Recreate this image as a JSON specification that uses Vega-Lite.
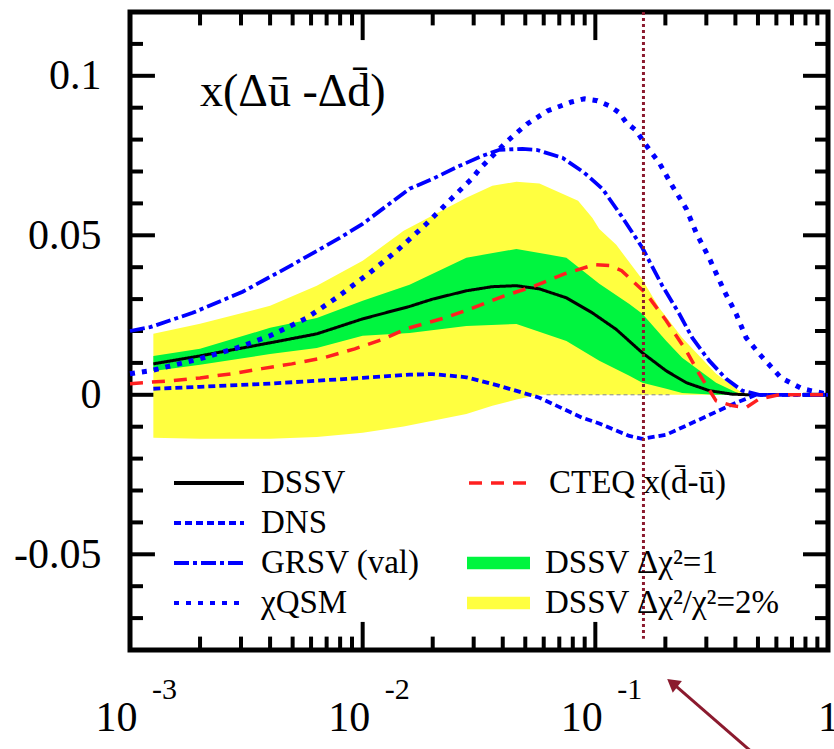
{
  "$schema": "https://vega.github.io/schema/vega-lite/v6.json",
  "width": 698,
  "height": 638,
  "autosize": {"type": "none"},
  "padding": {"left": 130, "top": 12, "right": 6, "bottom": 99},
  "background": "white",
  "config": {
    "view": {"stroke": "black", "strokeWidth": 5},
    "axis": {"domain": false, "grid": false, "ticks": false, "labelFont": "Liberation Serif", "labelColor": "black", "labelFlush": false, "labelOverlap": false},
    "legend": {"labelFont": "Liberation Serif", "labelFontSize": 33, "labelColor": "black", "labelLimit": 600, "padding": 0, "rowPadding": 0, "clipHeight": 40, "labelOffset": 15}
  },
  "title": {"text": "x(Δ\u016b -Δd\u0304)", "anchor": "start", "frame": "group", "orient": "top", "offset": 0, "dx": 70, "dy": 142, "font": "Liberation Serif", "fontSize": 46, "fontWeight": "normal", "color": "black", "baseline": "alphabetic"},
  "datasets": {
    "xticks": [
      {"v": 0.001, "b0": -0.08, "b1": -0.0712, "t0": 0.12, "t1": 0.1112},
      {"v": 0.002, "b0": -0.08, "b1": -0.0758, "t0": 0.12, "t1": 0.1158},
      {"v": 0.003, "b0": -0.08, "b1": -0.0758, "t0": 0.12, "t1": 0.1158},
      {"v": 0.004, "b0": -0.08, "b1": -0.0758, "t0": 0.12, "t1": 0.1158},
      {"v": 0.005, "b0": -0.08, "b1": -0.0758, "t0": 0.12, "t1": 0.1158},
      {"v": 0.006, "b0": -0.08, "b1": -0.0758, "t0": 0.12, "t1": 0.1158},
      {"v": 0.007, "b0": -0.08, "b1": -0.0758, "t0": 0.12, "t1": 0.1158},
      {"v": 0.008, "b0": -0.08, "b1": -0.0758, "t0": 0.12, "t1": 0.1158},
      {"v": 0.009, "b0": -0.08, "b1": -0.0758, "t0": 0.12, "t1": 0.1158},
      {"v": 0.01, "b0": -0.08, "b1": -0.0712, "t0": 0.12, "t1": 0.1112},
      {"v": 0.02, "b0": -0.08, "b1": -0.0758, "t0": 0.12, "t1": 0.1158},
      {"v": 0.03, "b0": -0.08, "b1": -0.0758, "t0": 0.12, "t1": 0.1158},
      {"v": 0.04, "b0": -0.08, "b1": -0.0758, "t0": 0.12, "t1": 0.1158},
      {"v": 0.05, "b0": -0.08, "b1": -0.0758, "t0": 0.12, "t1": 0.1158},
      {"v": 0.06, "b0": -0.08, "b1": -0.0758, "t0": 0.12, "t1": 0.1158},
      {"v": 0.07, "b0": -0.08, "b1": -0.0758, "t0": 0.12, "t1": 0.1158},
      {"v": 0.08, "b0": -0.08, "b1": -0.0758, "t0": 0.12, "t1": 0.1158},
      {"v": 0.09, "b0": -0.08, "b1": -0.0758, "t0": 0.12, "t1": 0.1158},
      {"v": 0.1, "b0": -0.08, "b1": -0.0712, "t0": 0.12, "t1": 0.1112},
      {"v": 0.2, "b0": -0.08, "b1": -0.0758, "t0": 0.12, "t1": 0.1158},
      {"v": 0.3, "b0": -0.08, "b1": -0.0758, "t0": 0.12, "t1": 0.1158},
      {"v": 0.4, "b0": -0.08, "b1": -0.0758, "t0": 0.12, "t1": 0.1158},
      {"v": 0.5, "b0": -0.08, "b1": -0.0758, "t0": 0.12, "t1": 0.1158},
      {"v": 0.6, "b0": -0.08, "b1": -0.0758, "t0": 0.12, "t1": 0.1158},
      {"v": 0.7, "b0": -0.08, "b1": -0.0758, "t0": 0.12, "t1": 0.1158},
      {"v": 0.8, "b0": -0.08, "b1": -0.0758, "t0": 0.12, "t1": 0.1158},
      {"v": 0.9, "b0": -0.08, "b1": -0.0758, "t0": 0.12, "t1": 0.1158}
    ],
    "yticks": [
      {"v": -0.07, "l0": 0.001, "l1": 0.001137, "r0": 1, "r1": 0.8792},
      {"v": -0.06, "l0": 0.001, "l1": 0.001137, "r0": 1, "r1": 0.8792},
      {"v": -0.05, "l0": 0.001, "l1": 0.00128, "r0": 1, "r1": 0.781},
      {"v": -0.04, "l0": 0.001, "l1": 0.001137, "r0": 1, "r1": 0.8792},
      {"v": -0.03, "l0": 0.001, "l1": 0.001137, "r0": 1, "r1": 0.8792},
      {"v": -0.02, "l0": 0.001, "l1": 0.001137, "r0": 1, "r1": 0.8792},
      {"v": -0.01, "l0": 0.001, "l1": 0.001137, "r0": 1, "r1": 0.8792},
      {"v": 0, "l0": 0.001, "l1": 0.00128, "r0": 1, "r1": 0.781},
      {"v": 0.01, "l0": 0.001, "l1": 0.001137, "r0": 1, "r1": 0.8792},
      {"v": 0.02, "l0": 0.001, "l1": 0.001137, "r0": 1, "r1": 0.8792},
      {"v": 0.03, "l0": 0.001, "l1": 0.001137, "r0": 1, "r1": 0.8792},
      {"v": 0.04, "l0": 0.001, "l1": 0.001137, "r0": 1, "r1": 0.8792},
      {"v": 0.05, "l0": 0.001, "l1": 0.00128, "r0": 1, "r1": 0.781},
      {"v": 0.06, "l0": 0.001, "l1": 0.001137, "r0": 1, "r1": 0.8792},
      {"v": 0.07, "l0": 0.001, "l1": 0.001137, "r0": 1, "r1": 0.8792},
      {"v": 0.08, "l0": 0.001, "l1": 0.001137, "r0": 1, "r1": 0.8792},
      {"v": 0.09, "l0": 0.001, "l1": 0.001137, "r0": 1, "r1": 0.8792},
      {"v": 0.1, "l0": 0.001, "l1": 0.00128, "r0": 1, "r1": 0.781},
      {"v": 0.11, "l0": 0.001, "l1": 0.001137, "r0": 1, "r1": 0.8792}
    ],
    "yellow": [
      {"x": 0.00126, "lo": -0.0135, "hi": 0.0191},
      {"x": 0.002, "lo": -0.0138, "hi": 0.0223},
      {"x": 0.004, "lo": -0.0138, "hi": 0.0279},
      {"x": 0.00635, "lo": -0.0132, "hi": 0.0342},
      {"x": 0.01, "lo": -0.0119, "hi": 0.042},
      {"x": 0.015, "lo": -0.0099, "hi": 0.0514},
      {"x": 0.0279, "lo": -0.006, "hi": 0.0618},
      {"x": 0.0361, "lo": -0.0034, "hi": 0.0655},
      {"x": 0.0458, "lo": -0.0015, "hi": 0.0668},
      {"x": 0.0575, "lo": 0, "hi": 0.0662},
      {"x": 0.0843, "lo": 0, "hi": 0.0608},
      {"x": 0.097, "lo": 0, "hi": 0.0555},
      {"x": 0.104, "lo": 0, "hi": 0.052},
      {"x": 0.123, "lo": 0, "hi": 0.047},
      {"x": 0.159, "lo": 0, "hi": 0.0362},
      {"x": 0.188, "lo": 0, "hi": 0.0273},
      {"x": 0.2362, "lo": 0, "hi": 0.0179},
      {"x": 0.3304, "lo": 0, "hi": 0.0066},
      {"x": 0.415, "lo": 0, "hi": 0.0013},
      {"x": 0.46, "lo": 0, "hi": 0}
    ],
    "green": [
      {"x": 0.00126, "lo": 0.0075, "hi": 0.0122},
      {"x": 0.002, "lo": 0.0094, "hi": 0.0144},
      {"x": 0.004, "lo": 0.0128, "hi": 0.021},
      {"x": 0.00635, "lo": 0.0147, "hi": 0.0241},
      {"x": 0.01, "lo": 0.0185, "hi": 0.0295},
      {"x": 0.0159, "lo": 0.0194, "hi": 0.0345},
      {"x": 0.0279, "lo": 0.0216, "hi": 0.043},
      {"x": 0.0458, "lo": 0.0222, "hi": 0.0457},
      {"x": 0.0751, "lo": 0.0169, "hi": 0.043},
      {"x": 0.104, "lo": 0.0107, "hi": 0.0348},
      {"x": 0.14, "lo": 0.006, "hi": 0.0285},
      {"x": 0.1592, "lo": 0.0038, "hi": 0.0254},
      {"x": 0.2018, "lo": 0.0019, "hi": 0.0169},
      {"x": 0.2362, "lo": 0.0006, "hi": 0.0116},
      {"x": 0.3304, "lo": 0, "hi": 0.0038},
      {"x": 0.415, "lo": 0, "hi": 0.0003},
      {"x": 0.46, "lo": 0, "hi": 0}
    ],
    "curves": [
      {"s": "DSSV", "x": 0.00126, "y": 0.0097},
      {"s": "DSSV", "x": 0.002, "y": 0.0122},
      {"s": "DSSV", "x": 0.004, "y": 0.0163},
      {"s": "DSSV", "x": 0.00635, "y": 0.0191},
      {"s": "DSSV", "x": 0.01, "y": 0.0238},
      {"s": "DSSV", "x": 0.0159, "y": 0.0277},
      {"s": "DSSV", "x": 0.02, "y": 0.03},
      {"s": "DSSV", "x": 0.0279, "y": 0.0326},
      {"s": "DSSV", "x": 0.0361, "y": 0.0339},
      {"s": "DSSV", "x": 0.0458, "y": 0.0342},
      {"s": "DSSV", "x": 0.0575, "y": 0.0332},
      {"s": "DSSV", "x": 0.0751, "y": 0.0304},
      {"s": "DSSV", "x": 0.097, "y": 0.0257},
      {"s": "DSSV", "x": 0.123, "y": 0.0205},
      {"s": "DSSV", "x": 0.159, "y": 0.0132},
      {"s": "DSSV", "x": 0.2018, "y": 0.0075},
      {"s": "DSSV", "x": 0.246, "y": 0.0038},
      {"s": "DSSV", "x": 0.3085, "y": 0.0013},
      {"s": "DSSV", "x": 0.3873, "y": 0.0002},
      {"s": "DSSV", "x": 0.458, "y": 0},
      {"s": "DSSV", "x": 0.55, "y": 0},
      {"s": "DNS", "x": 0.00126, "y": 0.0019},
      {"s": "DNS", "x": 0.002, "y": 0.0025},
      {"s": "DNS", "x": 0.004, "y": 0.0035},
      {"s": "DNS", "x": 0.01, "y": 0.0053},
      {"s": "DNS", "x": 0.0159, "y": 0.0063},
      {"s": "DNS", "x": 0.02, "y": 0.0065},
      {"s": "DNS", "x": 0.0279, "y": 0.0055},
      {"s": "DNS", "x": 0.0387, "y": 0.0028},
      {"s": "DNS", "x": 0.0575, "y": -0.0009},
      {"s": "DNS", "x": 0.0879, "y": -0.0072},
      {"s": "DNS", "x": 0.104, "y": -0.009},
      {"s": "DNS", "x": 0.14, "y": -0.0129},
      {"s": "DNS", "x": 0.1592, "y": -0.0138},
      {"s": "DNS", "x": 0.2018, "y": -0.0125},
      {"s": "DNS", "x": 0.2794, "y": -0.0078},
      {"s": "DNS", "x": 0.3873, "y": -0.003},
      {"s": "DNS", "x": 0.4906, "y": 0},
      {"s": "DNS", "x": 1, "y": 0},
      {"s": "GRSV (val)", "x": 0.001, "y": 0.02},
      {"s": "GRSV (val)", "x": 0.00122, "y": 0.0212},
      {"s": "GRSV (val)", "x": 0.00186, "y": 0.0257},
      {"s": "GRSV (val)", "x": 0.00305, "y": 0.0323},
      {"s": "GRSV (val)", "x": 0.005, "y": 0.0408},
      {"s": "GRSV (val)", "x": 0.00797, "y": 0.0492},
      {"s": "GRSV (val)", "x": 0.01, "y": 0.0536},
      {"s": "GRSV (val)", "x": 0.0159, "y": 0.0646},
      {"s": "GRSV (val)", "x": 0.02, "y": 0.0677},
      {"s": "GRSV (val)", "x": 0.0256, "y": 0.0715},
      {"s": "GRSV (val)", "x": 0.0327, "y": 0.0749},
      {"s": "GRSV (val)", "x": 0.0387, "y": 0.0768},
      {"s": "GRSV (val)", "x": 0.0486, "y": 0.0771},
      {"s": "GRSV (val)", "x": 0.0558, "y": 0.0768},
      {"s": "GRSV (val)", "x": 0.0722, "y": 0.0743},
      {"s": "GRSV (val)", "x": 0.0897, "y": 0.0696},
      {"s": "GRSV (val)", "x": 0.1072, "y": 0.0646},
      {"s": "GRSV (val)", "x": 0.1294, "y": 0.0561},
      {"s": "GRSV (val)", "x": 0.1592, "y": 0.0461},
      {"s": "GRSV (val)", "x": 0.194, "y": 0.0342},
      {"s": "GRSV (val)", "x": 0.2294, "y": 0.0254},
      {"s": "GRSV (val)", "x": 0.2608, "y": 0.0179},
      {"s": "GRSV (val)", "x": 0.3085, "y": 0.0107},
      {"s": "GRSV (val)", "x": 0.3648, "y": 0.005},
      {"s": "GRSV (val)", "x": 0.4276, "y": 0.0013},
      {"s": "GRSV (val)", "x": 0.5056, "y": 0},
      {"s": "GRSV (val)", "x": 1, "y": 0},
      {"s": "χQSM", "x": 0.001, "y": 0.0066},
      {"s": "χQSM", "x": 0.00122, "y": 0.0075},
      {"s": "χQSM", "x": 0.002, "y": 0.0113},
      {"s": "χQSM", "x": 0.00288, "y": 0.0147},
      {"s": "χQSM", "x": 0.004, "y": 0.0185},
      {"s": "χQSM", "x": 0.00575, "y": 0.0241},
      {"s": "χQSM", "x": 0.00782, "y": 0.0307},
      {"s": "χQSM", "x": 0.0107, "y": 0.0382},
      {"s": "χQSM", "x": 0.014, "y": 0.0451},
      {"s": "χQSM", "x": 0.0188, "y": 0.0536},
      {"s": "χQSM", "x": 0.0243, "y": 0.0618},
      {"s": "χQSM", "x": 0.0297, "y": 0.068},
      {"s": "χQSM", "x": 0.0318, "y": 0.0708},
      {"s": "χQSM", "x": 0.0419, "y": 0.0796},
      {"s": "χQSM", "x": 0.0511, "y": 0.085},
      {"s": "χQSM", "x": 0.0622, "y": 0.089},
      {"s": "χQSM", "x": 0.0789, "y": 0.0918},
      {"s": "χQSM", "x": 0.0897, "y": 0.0928},
      {"s": "χQSM", "x": 0.102, "y": 0.0922},
      {"s": "χQSM", "x": 0.1148, "y": 0.0906},
      {"s": "χQSM", "x": 0.1268, "y": 0.0884},
      {"s": "χQSM", "x": 0.1359, "y": 0.0853},
      {"s": "χQSM", "x": 0.15, "y": 0.0828},
      {"s": "χQSM", "x": 0.1623, "y": 0.079},
      {"s": "χQSM", "x": 0.1883, "y": 0.0727},
      {"s": "χQSM", "x": 0.214, "y": 0.0655},
      {"s": "χQSM", "x": 0.246, "y": 0.0583},
      {"s": "χQSM", "x": 0.2712, "y": 0.0508},
      {"s": "χQSM", "x": 0.3085, "y": 0.0429},
      {"s": "χQSM", "x": 0.3578, "y": 0.0326},
      {"s": "χQSM", "x": 0.4027, "y": 0.0254},
      {"s": "χQSM", "x": 0.4446, "y": 0.0179},
      {"s": "χQSM", "x": 0.5056, "y": 0.0129},
      {"s": "χQSM", "x": 0.6285, "y": 0.0053},
      {"s": "χQSM", "x": 0.7733, "y": 0.0019},
      {"s": "χQSM", "x": 0.98, "y": 0.0003},
      {"s": "χQSM", "x": 1, "y": 0},
      {"s": "CTEQ", "x": 0.001, "y": 0.0035},
      {"s": "CTEQ", "x": 0.0015, "y": 0.0044},
      {"s": "CTEQ", "x": 0.002, "y": 0.0053},
      {"s": "CTEQ", "x": 0.00274, "y": 0.0066},
      {"s": "CTEQ", "x": 0.00369, "y": 0.0082},
      {"s": "CTEQ", "x": 0.00496, "y": 0.0097},
      {"s": "CTEQ", "x": 0.0068, "y": 0.0116},
      {"s": "CTEQ", "x": 0.00925, "y": 0.0144},
      {"s": "CTEQ", "x": 0.0124, "y": 0.0176},
      {"s": "CTEQ", "x": 0.0154, "y": 0.0207},
      {"s": "CTEQ", "x": 0.0225, "y": 0.0241},
      {"s": "CTEQ", "x": 0.03, "y": 0.0273},
      {"s": "CTEQ", "x": 0.0406, "y": 0.031},
      {"s": "CTEQ", "x": 0.0553, "y": 0.0342},
      {"s": "CTEQ", "x": 0.0736, "y": 0.0379},
      {"s": "CTEQ", "x": 0.099, "y": 0.0408},
      {"s": "CTEQ", "x": 0.115, "y": 0.0405},
      {"s": "CTEQ", "x": 0.1297, "y": 0.0389},
      {"s": "CTEQ", "x": 0.1656, "y": 0.0317},
      {"s": "CTEQ", "x": 0.2018, "y": 0.0232},
      {"s": "CTEQ", "x": 0.246, "y": 0.0138},
      {"s": "CTEQ", "x": 0.2794, "y": 0.0066},
      {"s": "CTEQ", "x": 0.3304, "y": -0.0019},
      {"s": "CTEQ", "x": 0.3873, "y": -0.0034},
      {"s": "CTEQ", "x": 0.4446, "y": -0.004},
      {"s": "CTEQ", "x": 0.5056, "y": -0.0013},
      {"s": "CTEQ", "x": 0.6166, "y": 0},
      {"s": "CTEQ", "x": 1, "y": 0}
    ],
    "zeroline": [{"x1": 0.0617, "x2": 0.212, "y": 0}],
    "marker": [{"x": 0.161, "ytop": 0.12, "ybot": -0.0765}],
    "arrow": [{"x1": 0.616, "y1": -0.1194, "x2": 0.2141, "y2": -0.0903}]
  },
  "layer": [
    {
      "data": {"name": "xticks"},
      "mark": {"type": "rule", "stroke": "#000000", "color": "#000000", "opacity": 1, "strokeWidth": 4},
      "encoding": {
        "x": {"field": "v", "type": "quantitative", "scale": {"type": "log", "domain": [0.001, 1], "nice": false}, "axis": null},
        "y": {"field": "b0", "type": "quantitative", "scale": {"domain": [-0.08, 0.12], "nice": false, "zero": false}, "axis": null},
        "y2": {"field": "b1"}
      }
    },
    {
      "data": {"name": "xticks"},
      "mark": {"type": "rule", "stroke": "#000000", "color": "#000000", "opacity": 1, "strokeWidth": 4},
      "encoding": {
        "x": {"field": "v", "type": "quantitative", "scale": {"type": "log", "domain": [0.001, 1], "nice": false}, "axis": null},
        "y": {"field": "t0", "type": "quantitative", "scale": {"domain": [-0.08, 0.12], "nice": false, "zero": false}, "axis": null},
        "y2": {"field": "t1"}
      }
    },
    {
      "data": {"name": "yticks"},
      "mark": {"type": "rule", "stroke": "#000000", "color": "#000000", "opacity": 1, "strokeWidth": 4},
      "encoding": {
        "y": {"field": "v", "type": "quantitative", "scale": {"domain": [-0.08, 0.12], "nice": false, "zero": false}, "axis": null},
        "x": {"field": "l0", "type": "quantitative", "scale": {"type": "log", "domain": [0.001, 1], "nice": false}, "axis": null},
        "x2": {"field": "l1"}
      }
    },
    {
      "data": {"name": "yticks"},
      "mark": {"type": "rule", "stroke": "#000000", "color": "#000000", "opacity": 1, "strokeWidth": 4},
      "encoding": {
        "y": {"field": "v", "type": "quantitative", "scale": {"domain": [-0.08, 0.12], "nice": false, "zero": false}, "axis": null},
        "x": {"field": "r0", "type": "quantitative", "scale": {"type": "log", "domain": [0.001, 1], "nice": false}, "axis": null},
        "x2": {"field": "r1"}
      }
    },
    {
      "layer": [
        {
          "data": {"name": "yellow"},
          "mark": {"type": "area"},
          "encoding": {
            "x": {"field": "x", "type": "quantitative", "scale": {"type": "log", "domain": [0.001, 1], "nice": false}, "axis": null},
            "y": {"field": "lo", "type": "quantitative", "scale": {"domain": [-0.08, 0.12], "nice": false, "zero": false}, "axis": null},
            "y2": {"field": "hi"},
            "fill": {"datum": "DSSV Δχ²/χ²=2%", "type": "nominal",
              "scale": {"domain": ["DSSV Δχ²=1", "DSSV Δχ²/χ²=2%"], "range": ["#00F53F", "#FFFF40"]},
              "legend": {"title": null, "orient": "none", "legendX": 337, "legendY": 531, "symbolType": "M-1,-0.2H1V0.2H-1Z", "symbolSize": 3969, "symbolStrokeWidth": 0, "symbolOpacity": 1}}
          }
        },
        {
          "data": {"name": "green"},
          "mark": {"type": "area"},
          "encoding": {
            "x": {"field": "x", "type": "quantitative", "scale": {"type": "log", "domain": [0.001, 1], "nice": false}, "axis": null},
            "y": {"field": "lo", "type": "quantitative", "scale": {"domain": [-0.08, 0.12], "nice": false, "zero": false}, "axis": null},
            "y2": {"field": "hi"},
            "fill": {"datum": "DSSV Δχ²=1", "type": "nominal",
              "scale": {"domain": ["DSSV Δχ²=1", "DSSV Δχ²/χ²=2%"], "range": ["#00F53F", "#FFFF40"]},
              "legend": {"title": null, "orient": "none", "legendX": 337, "legendY": 531, "symbolType": "M-1,-0.2H1V0.2H-1Z", "symbolSize": 3969, "symbolStrokeWidth": 0, "symbolOpacity": 1}}
          }
        }
      ]
    },
    {
      "data": {"name": "zeroline"},
      "mark": {"type": "rule", "color": "#888888", "strokeWidth": 1, "strokeDash": [4, 3]},
      "encoding": {
        "x": {"field": "x1", "type": "quantitative", "scale": {"type": "log", "domain": [0.001, 1], "nice": false}, "axis": null},
        "x2": {"field": "x2"},
        "y": {"field": "y", "type": "quantitative", "scale": {"domain": [-0.08, 0.12], "nice": false, "zero": false}, "axis": null}
      }
    },
    {
      "layer": [
        {
          "transform": [{"filter": "datum.s == 'DSSV'"}],
          "mark": {"type": "line", "strokeCap": "butt", "strokeWidth": 3}
        },
        {
          "transform": [{"filter": "datum.s == 'DNS' || datum.s == 'GRSV (val)'"}],
          "mark": {"type": "line", "strokeCap": "butt", "strokeWidth": 3.8}
        },
        {
          "transform": [{"filter": "datum.s == 'χQSM'"}],
          "mark": {"type": "line", "strokeCap": "butt", "strokeWidth": 5}
        }
      ],
      "data": {"name": "curves"},
      "encoding": {
        "x": {"field": "x", "type": "quantitative", "scale": {"type": "log", "domain": [0.001, 1], "nice": false}, "axis": null},
        "y": {"field": "y", "type": "quantitative", "scale": {"domain": [-0.08, 0.12], "nice": false, "zero": false}, "axis": null},
        "color": {"field": "s", "type": "nominal",
          "scale": {"domain": ["DSSV", "DNS", "GRSV (val)", "χQSM"], "range": ["black", "#0000FF", "#0000FF", "#0000FF"]},
          "legend": {"title": null, "orient": "none", "legendX": 42, "legendY": 451, "symbolType": "stroke", "symbolSize": 4900, "symbolStrokeWidth": 3.8}},
        "strokeDash": {"field": "s", "type": "nominal",
          "scale": {"domain": ["DSSV", "DNS", "GRSV (val)", "χQSM"], "range": [[1, 0], [7, 4], [15, 4, 4, 4], [5, 7]]},
          "legend": {"title": null, "orient": "none", "legendX": 42, "legendY": 451, "symbolType": "stroke", "symbolSize": 4900, "symbolStrokeWidth": 3.8}}
      }
    },
    {
      "data": {"name": "curves"},
      "transform": [{"filter": "datum.s == 'CTEQ'"}],
      "mark": {"type": "line", "strokeDash": [13, 9], "strokeWidth": 3.5},
      "encoding": {
        "x": {"field": "x", "type": "quantitative", "scale": {"type": "log", "domain": [0.001, 1], "nice": false}, "axis": null},
        "y": {"field": "y", "type": "quantitative", "scale": {"domain": [-0.08, 0.12], "nice": false, "zero": false}, "axis": null},
        "color": {"datum": "CTEQ x(d\u0304-\u016b)", "type": "nominal",
          "scale": {"domain": ["CTEQ x(d\u0304-\u016b)"], "range": ["#FF2020"]},
          "legend": {"title": null, "orient": "none", "legendX": 337, "legendY": 451, "symbolType": "stroke", "symbolSize": 3969, "symbolDash": [13, 9], "symbolStrokeWidth": 3.5}}
      }
    },
    {
      "data": {"name": "marker"},
      "mark": {"type": "rule", "color": "#8B1A2E", "strokeWidth": 3, "strokeDash": [3, 3]},
      "encoding": {
        "x": {"field": "x", "type": "quantitative", "scale": {"type": "log", "domain": [0.001, 1], "nice": false}, "axis": null},
        "y": {"field": "ytop", "type": "quantitative", "scale": {"domain": [-0.08, 0.12], "nice": false, "zero": false}, "axis": null},
        "y2": {"field": "ybot"}
      }
    },
    {
      "data": {"name": "arrow"},
      "mark": {"type": "rule", "color": "#8B1A2E", "strokeWidth": 3, "clip": false},
      "encoding": {
        "x": {"field": "x1", "type": "quantitative", "scale": {"type": "log", "domain": [0.001, 1], "nice": false}, "axis": null},
        "x2": {"field": "x2"},
        "y": {"field": "y1", "type": "quantitative", "scale": {"domain": [-0.08, 0.12], "nice": false, "zero": false}, "axis": null},
        "y2": {"field": "y2"}
      }
    },
    {
      "data": {"name": "arrow"},
      "mark": {"type": "point", "shape": "triangle-up", "filled": true, "color": "#8B1A2E", "opacity": 1, "size": 220, "angle": 308, "clip": false},
      "encoding": {
        "x": {"field": "x2", "type": "quantitative", "scale": {"type": "log", "domain": [0.001, 1], "nice": false}, "axis": null},
        "y": {"field": "y2", "type": "quantitative", "scale": {"domain": [-0.08, 0.12], "nice": false, "zero": false}, "axis": null}
      }
    },
    {
      "data": {"name": "yellow"},
      "mark": {"type": "point", "opacity": 0},
      "encoding": {
        "x": {"field": "x", "type": "quantitative", "scale": {"type": "log", "domain": [0.001, 1], "nice": false},
          "axis": {"orient": "bottom", "title": null, "values": [0.001, 0.01, 0.1, 1], "ticks": false,
            "labelExpr": "datum.value > 0.5 ? '1' : '10'",
            "labelFontSize": 42, "labelBaseline": "alphabetic", "labelPadding": 80,
            "labelOffset": {"condition": {"test": "datum.value > 0.5", "value": 0}, "value": -14}}},
        "y": {"field": "hi", "type": "quantitative", "scale": {"domain": [-0.08, 0.12], "nice": false, "zero": false},
          "axis": {"orient": "left", "title": null, "values": [-0.05, 0, 0.05, 0.1], "ticks": false,
            "labelExpr": "datum.value < 0 ? '-' + format(-datum.value, '~g') : format(datum.value, '~g')",
            "labelFontSize": 42, "labelPadding": 29}}
      }
    },
    {
      "data": {"name": "yellow"},
      "mark": {"type": "point", "opacity": 0},
      "encoding": {
        "x": {"field": "x", "type": "quantitative", "scale": {"type": "log", "domain": [0.001, 1], "nice": false},
          "axis": {"orient": "bottom", "title": null, "values": [0.001, 0.01, 0.1], "ticks": false,
            "labelExpr": "'-' + round(-log(datum.value)/LN10)",
            "labelFontSize": 30, "labelBaseline": "alphabetic", "labelPadding": 48, "labelOffset": 34}},
        "y": {"field": "hi", "type": "quantitative", "scale": {"domain": [-0.08, 0.12], "nice": false, "zero": false}, "axis": null}
      }
    }
  ],
  "resolve": {
    "scale": {"color": "independent", "strokeDash": "independent"},
    "axis": {"x": "independent", "y": "independent"}
  }
}
